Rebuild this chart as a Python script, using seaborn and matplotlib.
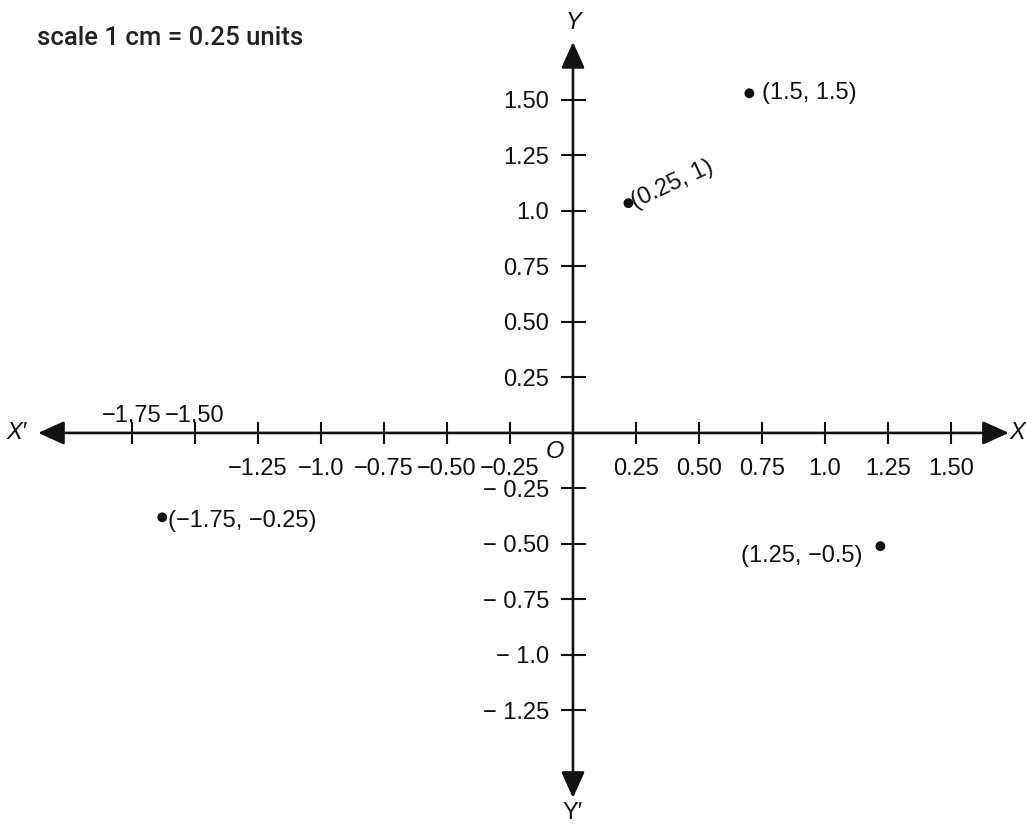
import pandas as pd
import seaborn as sns
import matplotlib.pyplot as plt

# tick values and the labels printed next to them
x_ticks = [-1.75, -1.5, -1.25, -1.0, -0.75, -0.5, -0.25, 0.25, 0.5, 0.75, 1.0, 1.25, 1.5]
x_tick_labels = ['−1.75', '−1.50', '−1.25', '−1.0', '−0.75', '−0.50', '−0.25',
                 '0.25', '0.50', '0.75', '1.0', '1.25', '1.50']
x_labels_above = ['−1.75', '−1.50']
y_ticks = [-1.25, -1.0, -0.75, -0.5, -0.25, 0.25, 0.5, 0.75, 1.0, 1.25, 1.5]
y_tick_labels = ['− 1.25', '− 1.0', '− 0.75', '− 0.50', '− 0.25',
                 '0.25', '0.50', '0.75', '1.0', '1.25', '1.50']

# points where the figure draws them, with their printed coordinates
pt_x = [0.70, 0.22, -1.63, 1.22]
pt_y = [1.53, 1.035, -0.38, -0.51]
pt_labels = ['(1.5, 1.5)', '(0.25, 1)', '(−1.75, −0.25)', '(1.25, −0.5)']

df = pd.DataFrame({'x': pt_x, 'y': pt_y, 'label': pt_labels})

sns.set_theme(style='white')
plt.rcParams['font.family'] = ['Liberation Sans', 'DejaVu Sans']
ink = '#111111'
fs = 17

fig = plt.figure(figsize=(10.26, 8.25), dpi=100)
ax = fig.add_axes([0, 0, 1, 1])
ax.set_xlim(-2.274, 1.798)
ax.set_ylim(-1.766, 1.950)

for s in ax.spines.values():
    s.set_visible(False)
ax.spines['left'].set_position(('data', 0))
ax.spines['bottom'].set_position(('data', 0))

# axes with arrow heads at both ends
head = '<|-|>,head_length=0.8,head_width=0.36'
ax.annotate('', xy=(1.73, 0), xytext=(-2.123, 0),
            arrowprops=dict(arrowstyle=head, lw=1.9, color=ink, shrinkA=0, shrinkB=0,
                            mutation_scale=20))
ax.annotate('', xy=(0, 1.761), xytext=(0, -1.644),
            arrowprops=dict(arrowstyle=head, lw=1.9, color=ink, shrinkA=0, shrinkB=0,
                            mutation_scale=20))

ax.set_xticks(x_ticks)
ax.set_xticklabels(['' if l in x_labels_above else l for l in x_tick_labels])
ax.set_yticks(y_ticks)
ax.set_yticklabels(y_tick_labels)
ax.tick_params(axis='both', direction='inout', width=1.5, colors=ink, labelsize=fs,
               bottom=True, left=True)
ax.tick_params(axis='x', length=16, pad=10)
ax.tick_params(axis='y', length=18, pad=8)

for v, l in zip(x_ticks, x_tick_labels):
    if l in x_labels_above:
        ax.text(v, 0.078, l, ha='center', va='center', fontsize=fs, color=ink)

sns.scatterplot(data=df, x='x', y='y', color=ink, s=50, edgecolor='none', ax=ax, zorder=5)
ax.set_xlabel('')
ax.set_ylabel('')

# point labels
ax.annotate(pt_labels[0], (pt_x[0], pt_y[0]), xytext=(9, 0), textcoords='offset points',
            ha='left', va='center', fontsize=fs, color=ink)
ax.annotate(pt_labels[1], (pt_x[1], pt_y[1]), xytext=(3, 0), textcoords='offset points',
            ha='left', va='center', fontsize=fs, color=ink, rotation=25,
            rotation_mode='anchor')
ax.annotate(pt_labels[2], (pt_x[2], pt_y[2]), xytext=(4, -3), textcoords='offset points',
            ha='left', va='center', fontsize=fs, color=ink)
ax.annotate(pt_labels[3], (pt_x[3], pt_y[3]), xytext=(-13, -7), textcoords='offset points',
            ha='right', va='center', fontsize=fs, color=ink)

# axis names and origin
ax.text(-2.21, 0, 'X′', ha='center', va='center', fontsize=fs, style='italic', color=ink)
ax.text(1.794, 0, 'X', ha='right', va='center', fontsize=fs, style='italic', color=ink)
ax.text(0, 1.85, 'Y', ha='center', va='center', fontsize=fs, style='italic', color=ink)
ax.text(0, -1.71, 'Y′', ha='center', va='center', fontsize=fs, color=ink)
ax.text(-0.07, -0.085, 'O', ha='center', va='center', fontsize=fs, style='italic', color=ink)

fig.text(0.036, 0.945, 'scale 1 cm = 0.25 units', ha='left', va='baseline',
         fontsize=18.5, family=['Roboto', 'DejaVu Sans'], fontweight='medium', color='#222222')

fig.savefig('out.png', dpi=100, facecolor='white')
